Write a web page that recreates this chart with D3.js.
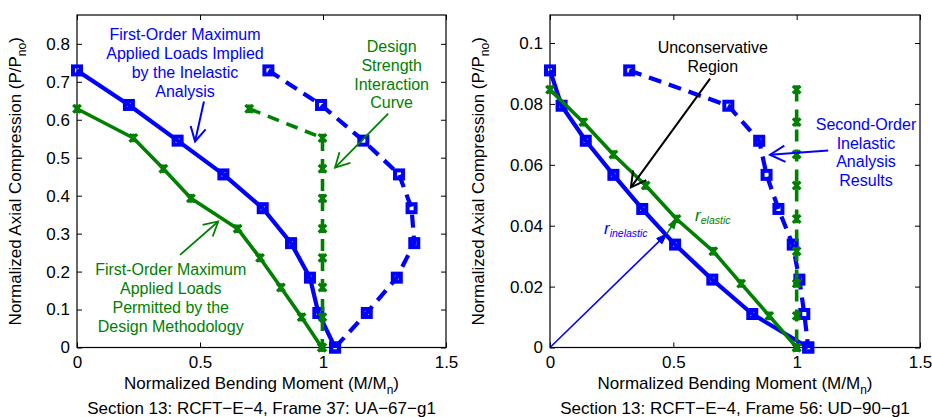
<!DOCTYPE html>
<html>
<head>
<meta charset="utf-8">
<script src="https://cdn.jsdelivr.net/npm/d3@7"></script>
<style>
  body { margin: 0; background: #fff; }
  svg text { font-family: "Liberation Sans", Arial, sans-serif; }
</style>
</head>
<body>
<svg id="chart" width="932" height="417"></svg>
<script>
// ---- data ----
const xTicks = [0, 0.5, 1, 1.5];
const leftYTicks = [0, 0.1, 0.2, 0.3, 0.4, 0.5, 0.6, 0.7, 0.8];
const rightYTicks = [0, 0.02, 0.04, 0.06, 0.08, 0.1];

// Section 13: RCFT-E-4, Frame 37
const leftAxialInelastic = [0.73, 0.639, 0.545, 0.456, 0.367, 0.275, 0.184, 0.091, 0];
const leftMomentFirstOrder = [0, 0.211, 0.409, 0.595, 0.755, 0.87, 0.947, 0.981, 1.049];
const leftMomentSecondOrder = [0.778, 0.992, 1.164, 1.309, 1.36, 1.371, 1.30, 1.178, 1.049];
const leftAxialElastic = [0.629, 0.552, 0.471, 0.393, 0.313, 0.236, 0.158, 0.080, 0];
const leftMomentPermitted = [0, 0.229, 0.351, 0.463, 0.653, 0.744, 0.829, 0.913, 0.995];
const leftMomentDesign = [0.70, 0.998, 0.998, 0.998, 0.998, 0.998, 0.998, 0.998, 0.997];

// Section 13: RCFT-E-4, Frame 56
const rightAxialInelastic = [0.091, 0.0794, 0.0679, 0.0567, 0.0455, 0.0338, 0.0223, 0.011, 0];
const rightMomentFirstOrder = [0, 0.047, 0.145, 0.257, 0.374, 0.507, 0.658, 0.82, 1.047];
const rightMomentSecondOrder = [0.321, 0.723, 0.848, 0.878, 0.926, 0.984, 1.011, 1.031, 1.047];
const rightAxialElastic = [0.0847, 0.074, 0.0634, 0.0532, 0.0422, 0.0316, 0.021, 0.0104, 0];
const rightMomentPermitted = [0, 0.135, 0.257, 0.388, 0.513, 0.662, 0.775, 0.889, 1.0];
const rightMomentDesign = [1.0, 1.0, 1.0, 1.0, 1.0, 1.0, 1.0, 1.0, 1.0];

// radial ratio points (origin -> inelastic curve -> elastic curve)
const rayInelastic = [0.473, 0.0373];
const rayElastic = [0.513, 0.0422];

const BLUE = '#0000ff';
const GREEN = '#008000';

const svg = d3.select('#chart');
const plotTop = 15, plotBottom = 347.5;

function zip(xs, ys) { return xs.map((v, i) => [v, ys[i]]); }

function arrow(g, p0, p1, color, w, len, ang, filled) {
  const a = Math.atan2(p1[1] - p0[1], p1[0] - p0[0]);
  const l = [p1[0] - len * Math.cos(a - ang), p1[1] - len * Math.sin(a - ang)];
  const r = [p1[0] - len * Math.cos(a + ang), p1[1] - len * Math.sin(a + ang)];
  const stop = filled ? [p1[0] - len * 0.8 * Math.cos(a), p1[1] - len * 0.8 * Math.sin(a)] : p1;
  g.append('line')
    .attr('x1', p0[0]).attr('y1', p0[1]).attr('x2', stop[0]).attr('y2', stop[1])
    .attr('stroke', color).attr('stroke-width', w);
  g.append('path')
    .attr('d', `M${l}L${p1}L${r}` + (filled ? 'Z' : ''))
    .attr('fill', filled ? color : 'none')
    .attr('stroke', color).attr('stroke-width', filled ? 1 : w)
    .attr('stroke-linejoin', 'miter');
}

function textBlock(g, cx, cy, lines, color, size, spacing) {
  const t = g.append('text')
    .attr('text-anchor', 'middle')
    .attr('fill', color)
    .attr('font-size', size);
  lines.forEach((s, i) => {
    t.append('tspan').attr('x', cx).attr('y', cy + i * spacing).attr('dy', '0.35em').text(s);
  });
}

function panel(opts) {
  const g = svg.append('g');
  const x = d3.scaleLinear().domain([0, 1.5]).range([opts.x0, opts.x1]);
  const y = d3.scaleLinear().domain([0, opts.yMax]).range([plotBottom, plotTop]);

  const fmt = d => String(d);
  const styleAxis = sel => {
    sel.select('.domain').remove();
    sel.selectAll('.tick line').attr('stroke', '#000');
    sel.selectAll('.tick text').attr('fill', '#000').attr('font-size', 17)
      .attr('font-family', '"Liberation Sans", Arial, sans-serif');
  };

  g.append('g').attr('transform', `translate(0,${plotBottom})`)
    .call(d3.axisBottom(x).tickValues(xTicks).tickSize(-5).tickPadding(8).tickFormat(fmt))
    .call(styleAxis);
  g.append('g').attr('transform', `translate(0,${plotTop})`)
    .call(d3.axisTop(x).tickValues(xTicks).tickSize(-5).tickFormat(''))
    .call(styleAxis);
  g.append('g').attr('transform', `translate(${opts.x0},0)`)
    .call(d3.axisLeft(y).tickValues(opts.yTicks).tickSize(-5).tickPadding(7).tickFormat(fmt))
    .call(styleAxis);
  g.append('g').attr('transform', `translate(${opts.x1},0)`)
    .call(d3.axisRight(y).tickValues(opts.yTicks).tickSize(-5).tickFormat(''))
    .call(styleAxis);

  g.append('rect')
    .attr('x', opts.x0).attr('y', plotTop)
    .attr('width', opts.x1 - opts.x0).attr('height', plotBottom - plotTop)
    .attr('fill', 'none').attr('stroke', '#000').attr('stroke-width', 1.2);

  const line = d3.line().x(d => x(d[0])).y(d => y(d[1]));

  opts.series.forEach(s => {
    const pts = zip(s.x, s.y);
    g.append('path').datum(pts)
      .attr('d', line)
      .attr('fill', 'none')
      .attr('stroke', s.color)
      .attr('stroke-width', s.width)
      .attr('stroke-dasharray', s.dash || null)
      .attr('stroke-linejoin', 'round');
    if (s.marker === 'square') {
      g.selectAll(null).data(pts).enter().append('rect')
        .attr('x', d => x(d[0]) - 4).attr('y', d => y(d[1]) - 4)
        .attr('width', 8).attr('height', 8)
        .attr('fill', 'none').attr('stroke', s.color).attr('stroke-width', 4);
    } else {
      g.selectAll(null).data(pts).enter().append('path')
        .attr('d', d => {
          const cx = x(d[0]), cy = y(d[1]), h = 3.8;
          return `M${cx - h},${cy - h}L${cx + h},${cy + h}M${cx - h},${cy + h}L${cx + h},${cy - h}` +
            `M${cx},${cy - h - 0.5}L${cx},${cy + h + 0.5}`;
        })
        .attr('stroke', s.color).attr('stroke-width', 3.2);
    }
  });

  // axis titles and caption
  const cx = (opts.x0 + opts.x1) / 2;
  const xl = g.append('text').attr('x', cx).attr('y', 389)
    .attr('text-anchor', 'middle').attr('font-size', 17).attr('fill', '#000');
  xl.append('tspan').text('Normalized Bending Moment (M/M');
  xl.append('tspan').attr('font-size', 12).attr('dy', 5).text('n');
  xl.append('tspan').attr('dy', -5).text(')');

  const yl = g.append('text')
    .attr('transform', `translate(${opts.yLabelX},${(plotTop + plotBottom) / 2}) rotate(-90)`)
    .attr('text-anchor', 'middle').attr('font-size', 17).attr('fill', '#000');
  yl.append('tspan').text('Normalized Axial Compression (P/P');
  yl.append('tspan').attr('font-size', 12).attr('dy', 5).text('no');
  yl.append('tspan').attr('dy', -5).text(')');

  g.append('text').attr('x', cx).attr('y', 414)
    .attr('text-anchor', 'middle').attr('font-size', 17).attr('fill', '#000')
    .text(opts.caption);

  return { g, x, y };
}

// ---- left panel ----
const L = panel({
  x0: 77, x1: 446, yMax: 0.876, yTicks: leftYTicks, yLabelX: 21,
  caption: 'Section 13: RCFT\u2212E\u22124, Frame 37: UA\u221267\u2212g1',
  series: [
    { x: leftMomentFirstOrder, y: leftAxialInelastic, color: BLUE, width: 4.2, marker: 'square' },
    { x: leftMomentSecondOrder, y: leftAxialInelastic, color: BLUE, width: 4.2, dash: '13,8', marker: 'square' },
    { x: leftMomentPermitted, y: leftAxialElastic, color: GREEN, width: 3.6, marker: 'x' },
    { x: leftMomentDesign, y: leftAxialElastic, color: GREEN, width: 3.6, dash: '12,8', marker: 'x' }
  ]
});
textBlock(L.g, L.x(0.439), L.y(0.826),
  ['First-Order Maximum', 'Applied Loads Implied', 'by the Inelastic', 'Analysis'], BLUE, 16, 19);
arrow(L.g, [L.x(0.516), L.y(0.648)], [L.x(0.48), L.y(0.543)], BLUE, 2, 16, 0.5, false);
textBlock(L.g, L.x(1.279), L.y(0.793),
  ['Design', 'Strength', 'Interaction', 'Curve'], GREEN, 16, 18.7);
arrow(L.g, [L.x(1.265), L.y(0.616)], [L.x(1.049), L.y(0.474)], GREEN, 1.8, 16, 0.5, false);
textBlock(L.g, L.x(0.381), L.y(0.207),
  ['First-Order Maximum', 'Applied Loads', 'Permitted by the', 'Design Methodology'], GREEN, 16, 19);
arrow(L.g, [L.x(0.419), L.y(0.244)], [L.x(0.574), L.y(0.332)], GREEN, 1.8, 16, 0.5, false);

// ---- right panel ----
const R = panel({
  x0: 550, x1: 920, yMax: 0.1092, yTicks: rightYTicks, yLabelX: 484,
  caption: 'Section 13: RCFT\u2212E\u22124, Frame 56: UD\u221290\u2212g1',
  series: [
    { x: rightMomentFirstOrder, y: rightAxialInelastic, color: BLUE, width: 4.2, marker: 'square' },
    { x: rightMomentSecondOrder, y: rightAxialInelastic, color: BLUE, width: 4.2, dash: '13,8', marker: 'square' },
    { x: rightMomentPermitted, y: rightAxialElastic, color: GREEN, width: 3.6, marker: 'x' },
    { x: rightMomentDesign, y: rightAxialElastic, color: GREEN, width: 3.6, dash: '12,8', marker: 'x' }
  ]
});
textBlock(R.g, R.x(0.66), R.y(0.0984), ['Unconservative', 'Region'], '#000', 16, 19);
arrow(R.g, [R.x(0.649), R.y(0.0883)], [R.x(0.328), R.y(0.0526)], '#000', 2, 17, 0.5, false);
textBlock(R.g, R.x(1.281), R.y(0.0733),
  ['Second-Order', 'Inelastic', 'Analysis', 'Results'], BLUE, 16, 18.7);
arrow(R.g, [R.x(1.128), R.y(0.0647)], [R.x(0.892), R.y(0.0633)], BLUE, 2, 17, 0.5, false);

arrow(R.g, [R.x(0), R.y(0)], [R.x(rayInelastic[0]), R.y(rayInelastic[1])], BLUE, 1.6, 11, 0.35, true);
arrow(R.g, [R.x(rayInelastic[0]), R.y(rayInelastic[1])], [R.x(rayElastic[0]), R.y(rayElastic[1])], GREEN, 1.6, 10, 0.35, true);

const ri = R.g.append('text').attr('x', R.x(0.219)).attr('y', R.y(0.0374))
  .attr('fill', BLUE).attr('font-style', 'italic').attr('font-size', 17);
ri.append('tspan').text('r');
ri.append('tspan').attr('font-size', 10.5).attr('dy', 3).text('inelastic');
const re = R.g.append('text').attr('x', R.x(0.588)).attr('y', R.y(0.0417))
  .attr('fill', GREEN).attr('font-style', 'italic').attr('font-size', 17);
re.append('tspan').text('r');
re.append('tspan').attr('font-size', 10.5).attr('dy', 3).text('elastic');
</script>
</body>
</html>
